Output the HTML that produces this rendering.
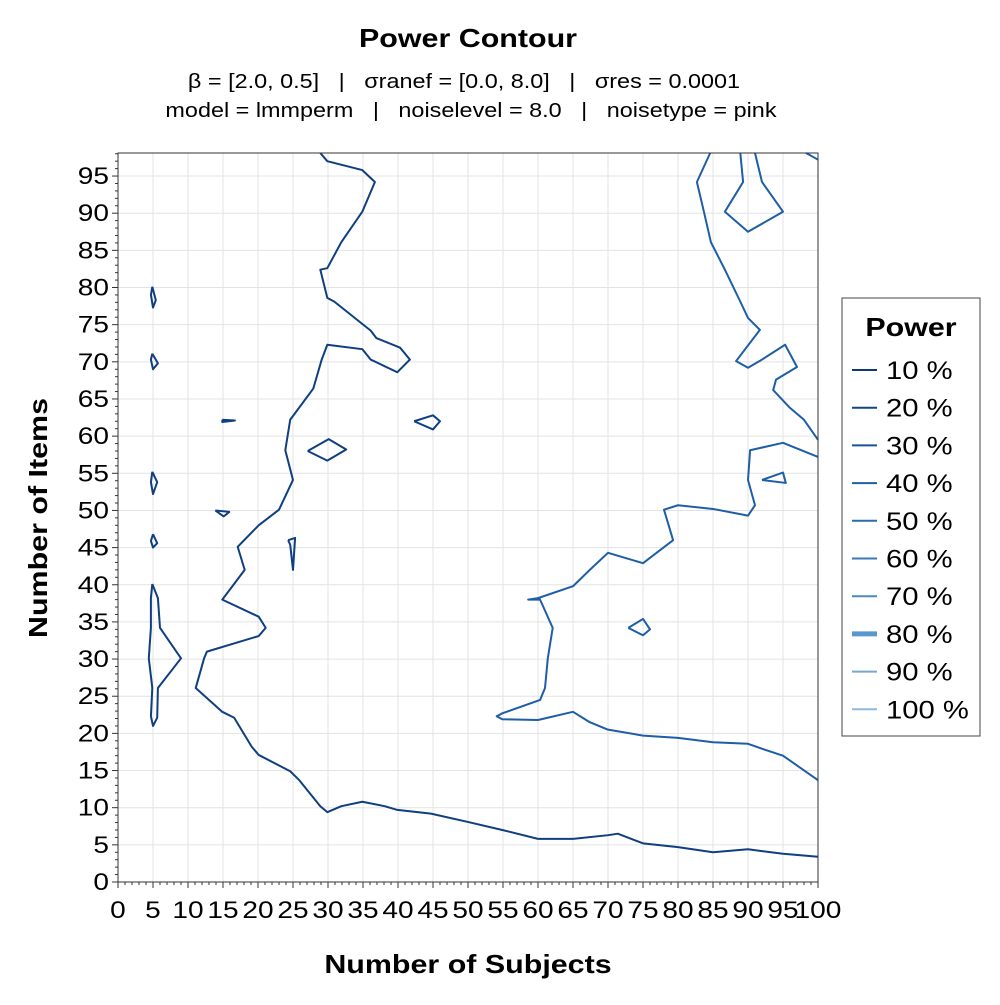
<!DOCTYPE html>
<html><head><meta charset="utf-8"><style>
body{margin:0;background:#fff;font-family:"Liberation Sans",sans-serif}
svg text{font-family:"Liberation Sans",sans-serif;white-space:pre}
</style></head><body>
<svg id="chart" width="1000" height="1000" viewBox="0 0 1000 1000" xmlns="http://www.w3.org/2000/svg">
<rect width="1000" height="1000" fill="#fff"/>
<text x="468" y="47" font-size="26" font-weight="bold" text-anchor="middle">Power Contour</text>
<text x="464" y="88" font-size="20" text-anchor="middle" xml:space="preserve">β = [2.0, 0.5]   |   σranef = [0.0, 8.0]   |   σres = 0.0001</text>
<text x="471" y="117" font-size="20" text-anchor="middle" xml:space="preserve">model = lmmperm   |   noiselevel = 8.0   |   noisetype = pink</text>
<g id="grid"></g>
<g id="contours"></g>
<rect x="118" y="153" width="700" height="729" fill="none" stroke="#333" stroke-width="1"/>
<g id="axes"></g>
<text x="468" y="973" font-size="26" font-weight="bold" text-anchor="middle">Number of Subjects</text>
<text transform="translate(47,518) rotate(-90)" font-size="26" font-weight="bold" text-anchor="middle">Number of Items</text>
<g>
<rect x="842" y="298" width="138" height="438" fill="#fff" stroke="#444" stroke-width="1"/>
<text x="911" y="336" font-size="26" font-weight="bold" text-anchor="middle">Power</text>
<g id="legend-entries"></g>
</g>
</svg>
<script>
const xTicks=[0,5,10,15,20,25,30,35,40,45,50,55,60,65,70,75,80,85,90,95,100];
const yTicks=[0,5,10,15,20,25,30,35,40,45,50,55,60,65,70,75,80,85,90,95];
const legendLabels=["10 %","20 %","30 %","40 %","50 %","60 %","70 %","80 %","90 %","100 %"];
const lineMain=[[28.9,98.1],[29.9,97.0],[34.9,95.8],[36.7,94.2],[34.9,90.2],[31.9,86.1],[29.9,82.6],[28.9,82.4],[29.9,78.6],[30.9,78.1],[36.1,74.2],[36.9,73.2],[40.3,71.9],[41.7,70.3],[39.9,68.6],[36.1,70.3],[34.9,71.7],[29.9,72.3],[29.1,70.3],[27.9,66.4],[24.6,62.2],[23.9,58.1],[25.0,54.1],[23.0,50.1],[20.1,48.0],[17.1,45.1],[18.1,42.0],[14.9,38.0],[20.1,35.7],[21.1,34.2],[20.1,33.1],[12.7,31.0],[12.3,30.1],[11.1,26.1],[14.9,22.9],[16.6,22.1],[19.1,18.2],[20.1,17.1],[24.6,14.9],[25.9,13.7],[28.9,10.2],[29.9,9.4],[31.9,10.2],[34.9,10.8],[38.1,10.2],[39.9,9.7],[44.7,9.2],[49.9,8.1],[54.9,7.0],[60.0,5.8],[65.0,5.8],[70.0,6.3],[71.4,6.5],[75.0,5.2],[80.0,4.7],[85.0,4.0],[90.0,4.4],[95.0,3.8],[100,3.4]];
const loop5=[[4.9,40.1],[5.7,38.2],[6.0,34.2],[9.0,30.1],[5.7,26.1],[5.6,22.1],[5.0,21.0],[4.7,22.3],[4.9,26.1],[4.4,30.1],[4.7,34.2],[4.7,38.2],[4.9,40.1]];
const loopA=[[4.9,80.1],[5.4,78.3],[5.0,77.3],[4.7,79.0],[4.9,80.1]];
const loopB=[[4.9,71.1],[5.7,69.8],[5.0,69.0],[4.7,70.3],[4.9,71.1]];
const loopC=[[4.9,55.2],[5.6,53.8],[5.0,52.2],[4.7,53.8],[4.9,55.2]];
const loopD=[[5.0,46.8],[5.6,45.6],[5.0,45.0],[4.7,45.9],[5.0,46.8]];
const loopE=[[14.9,62.2],[16.7,62.1],[14.9,61.9],[14.9,62.2]];
const loopF=[[13.9,50.0],[15.9,49.8],[15.1,49.2],[13.9,50.0]];
const loopG=[[24.3,46.0],[25.3,46.3],[25.0,42.0],[24.6,45.4],[24.3,46.0]];
const loopH=[[27.1,58.0],[30.1,59.6],[32.6,58.2],[29.9,56.7],[27.1,58.0]];
const loopI=[[42.3,62.0],[45.0,62.8],[46.0,62.0],[45.0,60.9],[42.3,62.0]];
const loopJ=[[72.9,34.2],[75.0,35.4],[76.0,34.0],[75.0,33.2],[72.9,34.2]];
const loopK=[[92.0,54.1],[95.0,55.1],[95.4,53.7],[92.0,54.1]];
const lineR1=[[100,97.2],[98.3,98.1]];
const lineR2=[[100,59.5],[98.0,62.2],[96.0,63.8],[93.6,66.2],[94.0,67.6],[97.0,69.3],[95.3,72.3],[92.0,70.3],[90.0,69.2],[88.3,70.1],[91.7,74.3],[90.0,75.9],[88.9,78.1],[86.7,82.4],[84.7,86.1],[83.7,90.2],[82.7,94.2],[84.6,98.1]];
const lineR3=[[88.9,98.1],[89.3,94.2],[86.7,90.2],[90.0,87.5],[95.0,90.2],[92.0,94.2],[91.0,98.1]];
const lineR4=[[100,57.2],[95,59.1],[90.3,58.1],[90.0,54.1],[91.0,50.7],[90.0,49.3],[85.0,50.2],[80.0,50.7],[78.0,50.1],[79.3,46.0],[75.0,42.9],[70.0,44.3],[67.4,42.0],[65.0,39.8],[60.0,38.2],[58.6,38.0],[60.3,38.0],[62.1,34.2],[61.4,30.1],[61.0,26.1],[60.3,24.5],[54.9,22.7],[54.1,22.3],[54.9,21.9],[60.0,21.8],[65.0,22.9],[67.4,21.5],[70.0,20.5],[75.0,19.7],[80.0,19.4],[85.0,18.8],[90.0,18.6],[92.4,17.8],[95.0,17.0],[100,13.7]];

const NS="http://www.w3.org/2000/svg";
const X0=118,X1=818,Y0=882,Y1=153,YMAX=98.1;
const sx=v=>X0+(X1-X0)*v/100;
const sy=v=>Y0-(Y0-Y1)*v/YMAX;
function mk(tag,attrs,parent){const e=document.createElementNS(NS,tag);for(const k in attrs)e.setAttribute(k,attrs[k]);parent.appendChild(e);return e;}
const grid=document.getElementById('grid'),axes=document.getElementById('axes'),cont=document.getElementById('contours');
xTicks.forEach(t=>{
 const l=mk('line',{x1:sx(t),x2:sx(t),y1:Y0,y2:Y1,stroke:'#e3e3e3','stroke-width':1},grid);
 
 
 const tk=mk('line',{x1:sx(t),x2:sx(t),y1:Y0,y2:Y0+6,stroke:'#333'},axes);
 
 
 const tx=mk('text',{x:sx(t),y:Y0+36,'font-size':24,'text-anchor':'middle'},axes);
 tx.textContent=t;
 
 
});
for(let i=0;i<=100;i++){if(i%5)mk('line',{x1:sx(i),x2:sx(i),y1:Y0,y2:Y0+3,stroke:'#333'},axes);}
yTicks.forEach(t=>{
 const l=mk('line',{x1:X0,x2:X1,y1:sy(t),y2:sy(t),stroke:'#e3e3e3','stroke-width':1},grid);
 
 
 const tk=mk('line',{x1:X0-6,x2:X0,y1:sy(t),y2:sy(t),stroke:'#333'},axes);
 
 
 const tx=mk('text',{x:X0-9,y:sy(t)+8,'font-size':24,'text-anchor':'end'},axes);
 tx.textContent=t;
 
 
});
for(let i=0;i<=98;i++){if(i%5)mk('line',{x1:X0-3,x2:X0,y1:sy(i),y2:sy(i),stroke:'#333'},axes);}
const series=[[lineMain,'#0f3f80'],[loop5,'#0f3f80'],[loopA,'#0f3f80'],[loopB,'#0f3f80'],[loopC,'#0f3f80'],[loopD,'#0f3f80'],[loopE,'#0f3f80'],[loopF,'#0f3f80'],[loopG,'#0f3f80'],[loopH,'#0f3f80'],[loopI,'#0f3f80'],[loopJ,'#1d5ea6'],[loopK,'#1d5ea6'],[lineR1,'#1d5ea6'],[lineR2,'#1d5ea6'],[lineR3,'#1d5ea6'],[lineR4,'#1d5ea6']];
series.forEach(([pts,c])=>{
 const p=mk('polyline',{points:pts.map(q=>sx(q[0])+','+sy(q[1])).join(' '),fill:'none',stroke:c,'stroke-width':2,'stroke-linejoin':'round'},cont);
 
 
});
const lcols=['#0d3775','#124589','#17529a','#1d5ea6','#2a6bb2','#3979bb','#4a88c4','#5b96cc','#74a8d5','#8cb9de'];
const le=document.getElementById('legend-entries');
legendLabels.forEach((s,i)=>{
 const y=370+i*37.7;
 const g=mk('g',{},le);
 
 
 mk('line',{x1:852,x2:877,y1:y,y2:y,stroke:lcols[i],'stroke-width':i==7?5:2},g);
 const t=mk('text',{x:886,y:y+9,'font-size':25},g);
 t.textContent=s;
});
// widen text to match the reference font's wider glyphs
document.querySelectorAll('svg text').forEach(t=>{
 const len=t.getComputedTextLength();
 if(len>0){t.setAttribute('textLength',(len*1.17).toFixed(1));t.setAttribute('lengthAdjust','spacingAndGlyphs');}
});
</script>
</body></html>
